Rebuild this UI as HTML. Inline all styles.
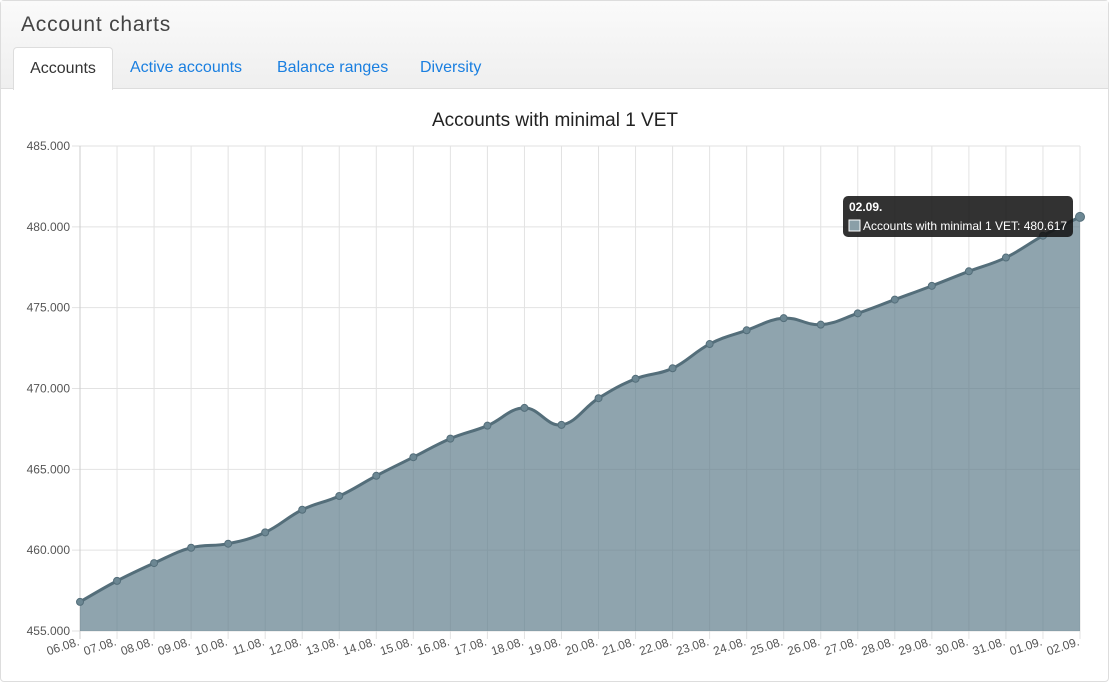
<!DOCTYPE html>
<html><head><meta charset="utf-8"><style>
body{margin:0;width:1109px;height:676px;overflow:hidden;background:#fff;font-family:"Liberation Sans",sans-serif;}
#card{position:absolute;left:0;top:0;width:1107px;height:680px;border:1px solid #ddd;border-radius:4px;}
#hdr{position:absolute;left:0;top:0;width:1107px;height:87px;background:linear-gradient(#fafafa,#efefef);border-bottom:1px solid #ddd;}
#title{position:absolute;left:20px;top:12px;font-size:21px;color:#444;letter-spacing:0.8px;}
.tab{position:absolute;top:46px;height:41px;line-height:41px;font-size:16px;color:#1a7fe0;}
#tab-active{left:12px;width:98px;background:#fff;border:1px solid #ddd;border-bottom:none;border-radius:4px 4px 0 0;color:#333;text-align:center;height:42px;}
svg{position:absolute;left:0;top:0;}
</style></head><body>
<div id="card">
<div id="hdr">
<div id="title">Account charts</div>
<div class="tab" id="tab-active">Accounts</div>
<div class="tab" style="left:129px">Active accounts</div>
<div class="tab" style="left:276px">Balance ranges</div>
<div class="tab" style="left:419px">Diversity</div>
</div>
</div>
<svg id="chart" width="1109" height="676"></svg>
<script>
const categories=["06.08.","07.08.","08.08.","09.08.","10.08.","11.08.","12.08.","13.08.","14.08.","15.08.","16.08.","17.08.","18.08.","19.08.","20.08.","21.08.","22.08.","23.08.","24.08.","25.08.","26.08.","27.08.","28.08.","29.08.","30.08.","31.08.","01.09.","02.09."];
const values=[456800,458100,459200,460150,460400,461100,462500,463350,464600,465750,466900,467700,468800,467750,469400,470600,471250,472750,473600,474350,473950,474650,475500,476350,477250,478100,479450,480617];
const yTicks=[455000,460000,465000,470000,475000,480000,485000];
const yTickLabels=["455.000","460.000","465.000","470.000","475.000","480.000","485.000"];
const chartTitle="Accounts with minimal 1 VET";
const NS="http://www.w3.org/2000/svg";
const svg=document.getElementById('chart');
const L=80,R=1080,T=146,B=631,ymin=455000,ymax=485000;
const xs=i=>L+i*(R-L)/(categories.length-1);
const ys=v=>B-(v-ymin)/(ymax-ymin)*(B-T);
function mk(t,a,p){const e=document.createElementNS(NS,t);for(const k in a)e.setAttribute(k,a[k]);(p||svg).appendChild(e);return e;}
let t=mk('text',{x:555,y:126,'text-anchor':'middle','font-size':19,fill:'#222','font-family':'Liberation Sans, sans-serif'});


t.textContent=chartTitle;
yTicks.forEach((v,i)=>{
 const g=mk('line',{x1:L-8,x2:R,y1:ys(v),y2:ys(v),stroke:'#e2e2e2'});
 
 
 const l=mk('text',{x:L-10,y:ys(v)+4,'text-anchor':'end','font-size':12,fill:'#555'});
 
 
 l.textContent=yTickLabels[i];
});
categories.forEach((c,i)=>{
 const g=mk('line',{x1:xs(i),x2:xs(i),y1:T,y2:B+8,stroke:i==0?'#ccc':'#e2e2e2'});
 
 
 const x=xs(i),y=B+14;
 const l=mk('text',{x:x,y:y,'text-anchor':'end','font-size':12,fill:'#555',transform:`rotate(-18 ${x} ${y})`});
 
 
 l.textContent=c;
});
const P=values.map((v,i)=>[xs(i),ys(v)]);
let d=`M${P[0][0]},${P[0][1]}`;
const k=0.2;
for(let i=0;i<P.length-1;i++){
 const p0=P[Math.max(0,i-1)],p1=P[i],p2=P[i+1],p3=P[Math.min(P.length-1,i+2)];
 const c1=[p1[0]+(p2[0]-p0[0])*k,p1[1]+(p2[1]-p0[1])*k];
 const c2=[p2[0]-(p3[0]-p1[0])*k,p2[1]-(p3[1]-p1[1])*k];
 d+=` C${c1[0]},${c1[1]} ${c2[0]},${c2[1]} ${p2[0]},${p2[1]}`;
}
const area=mk('path',{d:d+` L${R},${B} L${L},${B} Z`,fill:'rgba(96,125,139,0.7)'});


const line=mk('path',{d:d,fill:'none',stroke:'#546e7a','stroke-width':3});


P.forEach((p,i)=>{
 const c=mk('circle',{cx:p[0],cy:p[1],r:i==P.length-1?4.5:3.5,fill:'#6c8793',stroke:'#546e7a','stroke-width':1});
 
 
});
// tooltip
const last=values.length-1;
const g=mk('g',{});


mk('rect',{x:843,y:196,width:230,height:41,rx:5,fill:'rgba(20,20,20,0.87)'},g);
const t1=mk('text',{x:849,y:211,'font-size':12,'font-weight':'bold',fill:'#fff'},g);t1.textContent=categories[last];
mk('rect',{x:849,y:220,width:11,height:11,fill:'#8a9fa8',stroke:'#fff','stroke-width':1},g);
const t2=mk('text',{x:863,y:230,'font-size':12,fill:'#fff'},g);
t2.textContent="Accounts with minimal 1 VET: "+values[last].toLocaleString('de-DE');
</script>
</body></html>
